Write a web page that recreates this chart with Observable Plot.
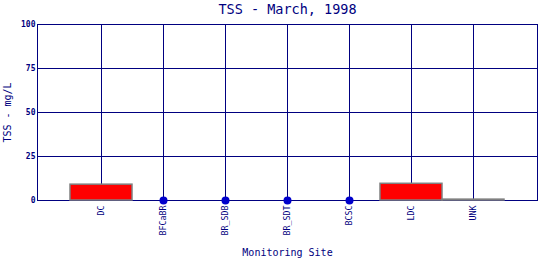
<!DOCTYPE html>
<html><head><meta charset="utf-8">
<script src="https://cdn.jsdelivr.net/npm/d3@7"></script>
<script src="https://cdn.jsdelivr.net/npm/@observablehq/plot@0.6"></script>
<style>body{margin:0;background:#fff}</style>
</head><body><div id="chart"></div>
<script>
const sites = ["DC","BFCaBR","BR_SDB","BR_SDT","BCSC","LDC","UNK"];
const tss = [9, 0, 0, 0, 0, 9.5, 0.5];
const yTicks = [0, 25, 50, 75, 100];
const title = "TSS - March, 1998";

const data = sites.map((s, i) => ({site: s, v: tss[i]}));
const navy = "#000080";
const font = "DejaVu Sans Mono, monospace";

const chart = Plot.plot({
  width: 540, height: 260,
  marginLeft: 37, marginRight: 3, marginTop: 24, marginBottom: 60,
  style: {fontFamily: font, background: "#fff", color: navy},
  x: {domain: sites, padding: 0, paddingOuter: 0.5, align: 0.5, label: null, axis: null},
  y: {domain: [0, 100], ticks: yTicks, label: null, axis: null},
  marks: [
    Plot.gridX(sites, {stroke: navy, strokeOpacity: 1, strokeWidth: 1}),
    Plot.gridY(yTicks, {stroke: navy, strokeOpacity: 1, strokeWidth: 1}),
    Plot.frame({stroke: navy, strokeWidth: 1}),
    Plot.barY(data.filter(d => d.v > 0), {x: "site", y: "v", fill: "#ff0000", stroke: "#808080", strokeWidth: 1.5, inset: 0}),
    Plot.dot(data.filter(d => d.v === 0), {x: "site", y: "v", r: 4, fill: "#0000cc", stroke: "none"}),
    Plot.axisY(yTicks, {tickSize: 0, tickPadding: 2, fontSize: 8, fill: navy, fontWeight: "bold", label: null}),
    Plot.axisX(sites, {tickSize: 0, tickRotate: -90, tickPadding: 5, fontSize: 8.3, fill: navy, label: null}),
    Plot.text([title], {frameAnchor: "top", dy: -15, fontSize: 13.5, fill: navy, lineAnchor: "middle"}),
    Plot.text(["Monitoring Site"], {frameAnchor: "bottom", dy: 52, fontSize: 10, fill: navy, lineAnchor: "middle"}),
    Plot.text(["TSS - mg/L"], {frameAnchor: "left", dx: -30, rotate: -90, textAnchor: "middle", fontSize: 10, fill: navy})
  ]
});
document.getElementById("chart").appendChild(chart);
</script></body></html>
